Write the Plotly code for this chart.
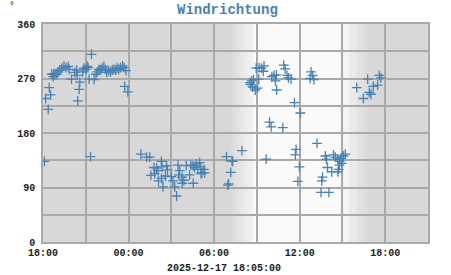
import plotly.graph_objects as go
import pandas as pd

# ---- data ----
times = [
    "2025-12-16 18:06", "2025-12-16 18:11", "2025-12-16 18:22", "2025-12-16 18:26", "2025-12-16 18:32",
    "2025-12-16 18:37", "2025-12-16 18:43", "2025-12-16 18:46", "2025-12-16 18:50", "2025-12-16 18:58",
    "2025-12-16 19:04", "2025-12-16 19:11", "2025-12-16 19:19", "2025-12-16 19:28", "2025-12-16 19:37",
    "2025-12-16 19:46", "2025-12-16 19:50", "2025-12-16 20:00", "2025-12-16 20:14", "2025-12-16 20:22",
    "2025-12-16 20:24", "2025-12-16 20:26", "2025-12-16 20:32", "2025-12-16 20:35", "2025-12-16 20:47",
    "2025-12-16 20:52", "2025-12-16 21:00", "2025-12-16 21:06", "2025-12-16 21:10", "2025-12-16 21:14",
    "2025-12-16 21:20", "2025-12-16 21:24", "2025-12-16 21:35", "2025-12-16 21:43", "2025-12-16 21:48",
    "2025-12-16 21:55", "2025-12-16 22:02", "2025-12-16 22:08", "2025-12-16 22:16", "2025-12-16 22:22",
    "2025-12-16 22:28", "2025-12-16 22:36", "2025-12-16 22:44", "2025-12-16 22:51", "2025-12-16 22:58",
    "2025-12-16 23:06", "2025-12-16 23:12", "2025-12-16 23:19", "2025-12-16 23:26", "2025-12-16 23:35",
    "2025-12-16 23:41", "2025-12-16 23:44", "2025-12-16 23:49", "2025-12-16 23:57",
    "2025-12-17 00:52", "2025-12-17 01:16", "2025-12-17 01:29", "2025-12-17 01:34", "2025-12-17 01:47",
    "2025-12-17 01:50", "2025-12-17 01:58", "2025-12-17 02:04", "2025-12-17 02:06", "2025-12-17 02:18",
    "2025-12-17 02:19", "2025-12-17 02:21", "2025-12-17 02:25", "2025-12-17 02:35", "2025-12-17 02:40",
    "2025-12-17 02:44", "2025-12-17 03:00", "2025-12-17 03:07", "2025-12-17 03:14", "2025-12-17 03:22",
    "2025-12-17 03:28", "2025-12-17 03:31", "2025-12-17 03:35", "2025-12-17 03:45", "2025-12-17 03:46",
    "2025-12-17 03:53", "2025-12-17 04:03", "2025-12-17 04:17", "2025-12-17 04:22", "2025-12-17 04:31",
    "2025-12-17 04:32", "2025-12-17 04:38", "2025-12-17 04:45", "2025-12-17 04:52", "2025-12-17 04:59",
    "2025-12-17 05:04", "2025-12-17 05:05", "2025-12-17 05:09", "2025-12-17 05:17", "2025-12-17 05:20",
    "2025-12-17 06:52", "2025-12-17 06:58", "2025-12-17 07:01", "2025-12-17 07:10", "2025-12-17 07:15",
    "2025-12-17 07:18", "2025-12-17 07:57", "2025-12-17 08:32", "2025-12-17 08:34", "2025-12-17 08:38",
    "2025-12-17 08:42", "2025-12-17 08:46", "2025-12-17 08:53", "2025-12-17 08:57", "2025-12-17 09:03",
    "2025-12-17 09:08", "2025-12-17 09:09", "2025-12-17 09:20", "2025-12-17 09:27", "2025-12-17 09:30",
    "2025-12-17 09:39", "2025-12-17 09:53", "2025-12-17 10:00", "2025-12-17 10:03", "2025-12-17 10:12",
    "2025-12-17 10:18", "2025-12-17 10:22", "2025-12-17 10:23", "2025-12-17 10:49", "2025-12-17 10:53",
    "2025-12-17 10:59", "2025-12-17 11:07", "2025-12-17 11:13", "2025-12-17 11:24", "2025-12-17 11:38",
    "2025-12-17 11:42", "2025-12-17 11:45", "2025-12-17 11:52", "2025-12-17 11:59", "2025-12-17 12:03",
    "2025-12-17 12:44", "2025-12-17 12:48", "2025-12-17 12:54", "2025-12-17 13:00", "2025-12-17 13:13",
    "2025-12-17 13:30", "2025-12-17 13:33", "2025-12-17 13:36", "2025-12-17 13:48", "2025-12-17 13:53",
    "2025-12-17 13:57", "2025-12-17 14:03", "2025-12-17 14:15", "2025-12-17 14:22", "2025-12-17 14:30",
    "2025-12-17 14:40", "2025-12-17 14:41", "2025-12-17 14:44", "2025-12-17 14:47", "2025-12-17 14:48",
    "2025-12-17 14:54", "2025-12-17 14:58", "2025-12-17 15:04", "2025-12-17 15:12",
    "2025-12-17 16:00", "2025-12-17 16:28", "2025-12-17 16:46", "2025-12-17 16:53", "2025-12-17 17:00",
    "2025-12-17 17:10", "2025-12-17 17:28", "2025-12-17 17:35", "2025-12-17 17:42",
]
direction = [
    133, 237, 219, 255, 243,
    277, 273, 278, 276, 277,
    281, 284, 287, 291, 288,
    290, 285, 269, 280, 284,
    275, 233, 252, 264, 281,
    287, 285, 290, 288, 269,
    141, 310, 268, 277, 281,
    285, 284, 287, 290, 285,
    280, 283, 281, 284, 285,
    284, 287, 285, 288, 291,
    288, 257, 283, 248,
    145, 140, 140, 110, 123,
    113, 122, 118, 101, 133,
    105, 124, 91, 109, 126,
    119, 108, 101, 91, 76,
    127, 111, 118, 107, 97,
    102, 126, 111, 127, 126,
    97, 123, 129, 120, 131,
    124, 113, 114, 120, 114,
    141, 94, 96, 115, 134,
    133, 151, 263, 260, 266,
    256, 268, 251, 287, 254,
    269, 288, 287, 282, 291,
    137, 198, 190, 273, 275,
    266, 276, 251, 189, 292,
    286, 275, 271, 269, 230,
    144, 153, 100, 124, 213,
    270, 281, 275, 268, 163,
    82, 101, 107, 142, 137,
    123, 82, 116, 144, 140,
    137, 116, 120, 127, 133,
    138, 130, 142, 145,
    255, 237, 269, 247, 244,
    257, 259, 275, 271,
]

x_start = "2025-12-16 18:00"
x_end = "2025-12-17 21:00"
tick_times = ["2025-12-16 18:00", "2025-12-17 00:00", "2025-12-17 06:00",
              "2025-12-17 12:00", "2025-12-17 18:00"]
tick_labels = ["18:00", "00:00", "06:00", "12:00", "18:00"]
y_ticks = [0, 90, 180, 270, 360]
title_text = "Windrichtung"
unit_text = "°"
footer_text = "2025-12-17 18:05:00"

# daylight
sunrise_from, sunrise_to = "2025-12-17 07:05", "2025-12-17 08:45"
sunset_from, sunset_to = "2025-12-17 15:00", "2025-12-17 16:55"

GREY = (216, 216, 216)
WHITE = (250, 250, 250)
MONO = "Courier New, Liberation Mono, monospace"
MARK = "#4682b4"

fig = go.Figure()
fig.add_trace(go.Scatter(
    x=pd.to_datetime(times), y=direction, mode="markers",
    marker=dict(symbol="cross-thin", size=7, line=dict(width=1.3, color=MARK), color=MARK),
    hoverinfo="x+y", showlegend=False,
))

def mix(t):
    c = [round(GREY[i] + (WHITE[i] - GREY[i]) * t) for i in range(3)]
    return f"rgb({c[0]},{c[1]},{c[2]})"

shapes = []
N = 24
def grad(a, b, rising):
    ta, tb = pd.Timestamp(a), pd.Timestamp(b)
    step = (tb - ta) / N
    for k in range(N):
        t = (k + 0.5) / N
        shapes.append(dict(type="rect", xref="x", yref="paper",
                           x0=ta + step * k, x1=ta + step * (k + 1) + pd.Timedelta(seconds=30),
                           y0=0, y1=1, line=dict(width=0),
                           fillcolor=mix(t if rising else 1 - t), layer="below"))
grad(sunrise_from, sunrise_to, True)
shapes.append(dict(type="rect", xref="x", yref="paper", x0=pd.Timestamp(sunrise_to),
                   x1=pd.Timestamp(sunset_from), y0=0, y1=1, line=dict(width=0),
                   fillcolor=mix(1), layer="below"))
grad(sunset_from, sunset_to, False)

fig.update_layout(
    width=451, height=275,
    margin=dict(l=43, r=23, t=24, b=33),
    paper_bgcolor="white",
    plot_bgcolor=mix(0),
    shapes=shapes,
    xaxis=dict(
        type="date", range=[x_start, x_end],
        tickvals=pd.to_datetime(tick_times), ticktext=tick_labels,
        showgrid=True, gridcolor="#a9a9a9", gridwidth=1.5,
        minor=dict(dtick=3 * 3600 * 1000, showgrid=True, gridcolor="#a9a9a9", gridwidth=1.5),
        showline=True, mirror=True, linecolor="#a9a9a9", linewidth=1.5,
        ticks="", zeroline=False,
        tickfont=dict(family=MONO, size=10, color="#222222", weight="bold"),
        fixedrange=True,
    ),
    yaxis=dict(
        range=[0, 360], tickvals=y_ticks,
        showgrid=True, gridcolor="#a9a9a9", gridwidth=1.5,
        minor=dict(dtick=45, showgrid=True, gridcolor="#a9a9a9", gridwidth=1.5),
        showline=True, mirror=True, linecolor="#a9a9a9", linewidth=1.5,
        ticks="", zeroline=False, ticklabelstandoff=4,
        tickfont=dict(family=MONO, size=10, color="#222222", weight="bold"),
        fixedrange=True,
    ),
    annotations=[
        dict(text=title_text, xref="paper", yref="paper", x=0.48, y=1, yshift=14,
             xanchor="center", yanchor="middle", showarrow=False,
             font=dict(family=MONO, size=14, color=MARK, weight="bold")),
        dict(text=unit_text, xref="paper", yref="paper", x=0, y=1, xshift=-31, yshift=18,
             xanchor="center", yanchor="middle", showarrow=False,
             font=dict(family=MONO, size=10, color="#222222")),
        dict(text=footer_text, xref="paper", yref="paper", x=0.47, y=0, yshift=-26,
             xanchor="center", yanchor="middle", showarrow=False,
             font=dict(family=MONO, size=10, color="#222222", weight="bold")),
    ],
)

fig.write_html("out.html")
